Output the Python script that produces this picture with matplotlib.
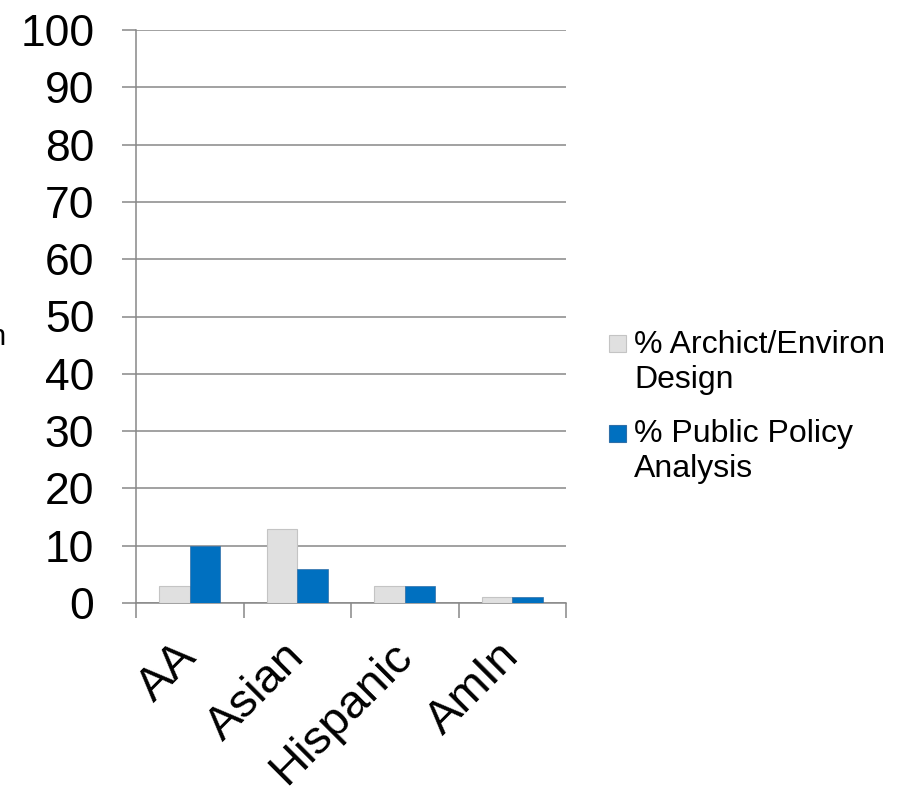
import matplotlib
matplotlib.use("Agg")
import matplotlib.pyplot as plt
import matplotlib.transforms as mtransforms
from matplotlib.patches import Rectangle
import numpy as np

plt.rcParams['font.family'] = ['Liberation Sans', 'DejaVu Sans']

categories = ["AA", "Asian", "Hispanic", "AmIn"]
arch_env_design = [3, 13, 3, 1]
public_policy = [10, 6, 3, 1]
series_names = ["% Archict/Environ\nDesign", "% Public Policy\nAnalysis"]
y_ticks = [0, 10, 20, 30, 40, 50, 60, 70, 80, 90, 100]

GRAY_LINE = "#888888"
LIGHT = "#E0E0E0"
LIGHT_EDGE = "#C4C4C4"
BLUE = "#0070C0"
BLUE_EDGE = "#2F6FA8"

W, H = 904, 795
fig = plt.figure(figsize=(W / 100, H / 100), dpi=100)
ax = fig.add_axes([136 / W, 192 / H, 430 / W, 573 / H])

x = np.arange(len(categories))
bw = 1 / 3.5
ax.bar(x - bw / 2, arch_env_design, bw, color=LIGHT, edgecolor=LIGHT_EDGE,
       linewidth=0.8, zorder=3)
ax.bar(x + bw / 2, public_policy, bw, color=BLUE, edgecolor=BLUE_EDGE,
       linewidth=0.5, zorder=3)

ax.set_xlim(-0.5, len(categories) - 0.5)
ax.set_ylim(0, 100)

ax.set_yticks(y_ticks)
ax.set_yticklabels([str(v) for v in y_ticks], fontsize=32)
ax.yaxis.grid(True, color=GRAY_LINE, linewidth=1.1, zorder=0)
ax.tick_params(axis="y", length=10, width=1.1, color=GRAY_LINE, pad=20)

ax.set_xticks(x)
ax.set_xticklabels(categories, fontsize=34, rotation=45, ha="right",
                   va="top", rotation_mode="anchor")
ax.tick_params(axis="x", which="major", length=0, pad=14)
shift = mtransforms.ScaledTranslation(-0.15, -0.12, fig.dpi_scale_trans)
for lbl in ax.get_xticklabels():
    lbl.set_transform(lbl.get_transform() + shift)
ax.set_xticks(np.arange(-0.5, len(categories)), minor=True)
ax.tick_params(axis="x", which="minor", length=11, width=1.1, color=GRAY_LINE)

for side in ("top", "right"):
    ax.spines[side].set_visible(False)
for side in ("left", "bottom"):
    ax.spines[side].set_color(GRAY_LINE)
    ax.spines[side].set_linewidth(1.1)

# Legend: swatch aligned with the first line of each two-line label;
# the label is anchored on the baseline of its last line
legend_items = [
    (series_names[0], LIGHT, LIGHT_EDGE, 335, 388),
    (series_names[1], BLUE, BLUE_EDGE, 425, 477),
]
for name, face, edge, sq_top, last_baseline in legend_items:
    fig.add_artist(Rectangle((609 / W, 1 - (sq_top + 17) / H), 17 / W, 17 / H,
                             transform=fig.transFigure, facecolor=face,
                             edgecolor=edge, linewidth=0.8))
    fig.text(634 / W, 1 - last_baseline / H, name, fontsize=23, ha="left",
             va="baseline", linespacing=1.2)

fig.text(5 / W, 1 - 345 / H, "n", fontsize=21, ha="right", va="baseline")

fig.savefig("out.png", dpi=100)
